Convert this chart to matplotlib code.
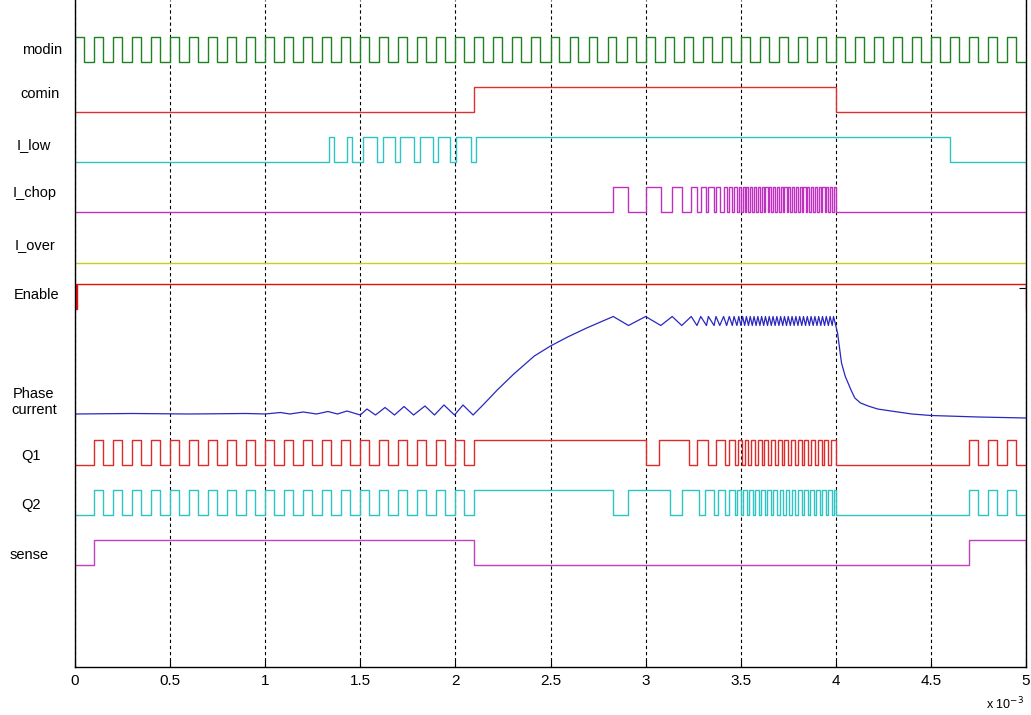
"""
Motor drive timing diagram - logic signals and phase current vs time.
"""

import numpy as np
import matplotlib
matplotlib.use("Agg")
import matplotlib.pyplot as plt
from matplotlib import font_manager

# ---------------- DATA (all times in ms) ----------------

T_END = 5.0

# modin clock: rising edges, each pulse is MODIN_HIGH ms wide
modin_rise = [0.0, 0.1, 0.2, 0.3, 0.4, 0.5, 0.6, 0.7, 0.8, 0.9,
              1.0, 1.1, 1.2, 1.3, 1.4, 1.5, 1.6, 1.7, 1.8, 1.9,
              2.0, 2.1, 2.2, 2.3, 2.4, 2.5, 2.6, 2.7, 2.8, 2.9,
              3.0, 3.1, 3.2, 3.3, 3.4, 3.5, 3.6, 3.7, 3.8, 3.9,
              4.0, 4.1, 4.2, 4.3, 4.4, 4.5, 4.6, 4.7, 4.8, 4.9]
MODIN_HIGH = 0.047

comin_rise = [2.1]
comin_fall = [4.0]

ilow_rise = [1.335, 1.43, 1.515, 1.62, 1.71, 1.815, 1.91, 2.005, 2.11]
ilow_fall = [1.36, 1.456, 1.59, 1.685, 1.78, 1.88, 1.97, 2.08, 4.6]

chop_rise = [2.83, 3.00, 3.14, 3.24, 3.29, 3.33, 3.37, 3.41, 3.44, 3.465,
             3.490, 3.510, 3.530, 3.550, 3.570, 3.590, 3.610, 3.630, 3.650, 3.670,
             3.690, 3.710, 3.730, 3.750, 3.770, 3.790, 3.810, 3.830, 3.850, 3.870,
             3.890, 3.910, 3.930, 3.950, 3.970, 3.988]
chop_fall = [2.91, 3.08, 3.19, 3.27, 3.32, 3.36, 3.39, 3.426, 3.456, 3.48,
             3.501, 3.521, 3.541, 3.561, 3.581, 3.601, 3.621, 3.641, 3.661, 3.681,
             3.701, 3.721, 3.741, 3.761, 3.781, 3.801, 3.821, 3.841, 3.861, 3.881,
             3.901, 3.921, 3.941, 3.961, 3.981, 4.000]

enable_rise = [0.0, 0.008]
enable_fall = [0.004, 5.0]

sense_rise = [0.1, 4.7]
sense_fall = [2.1, 5.0]

# Q1 / Q2 follow modin while sense is high, chop during the current limit phase
PWM_WINDOWS = [(0.1, 2.05), (4.7, 5.0)]
q1_rise_chop = [2.10, 3.07, 3.27, 3.37, 3.44, 3.485, 3.52, 3.555, 3.59, 3.625,
                3.66, 3.695, 3.73, 3.765, 3.80, 3.835, 3.87, 3.905, 3.94, 3.975]
q1_fall_chop = [3.00, 3.23, 3.33, 3.42, 3.47, 3.505, 3.54, 3.575, 3.61, 3.645,
                3.68, 3.715, 3.75, 3.785, 3.82, 3.855, 3.89, 3.925, 3.96, 4.00]
q2_rise_chop = [2.10, 2.91, 3.19, 3.31, 3.38, 3.44, 3.48, 3.512, 3.544, 3.576,
                3.608, 3.64, 3.672, 3.704, 3.736, 3.768, 3.80, 3.832, 3.864, 3.896,
                3.928, 3.96, 3.99]
q2_fall_chop = [2.83, 3.13, 3.28, 3.36, 3.42, 3.47, 3.50, 3.532, 3.564, 3.596,
                3.628, 3.66, 3.692, 3.724, 3.756, 3.788, 3.82, 3.852, 3.884, 3.916,
                3.948, 3.98, 4.00]

# phase current (arbitrary units) before chopping starts
cur_t_pre = [0.0, 0.3, 0.6, 0.9, 1.0, 1.08, 1.13, 1.2, 1.27, 1.33, 1.38, 1.43,
             1.5, 1.535, 1.58, 1.63, 1.68, 1.73, 1.78, 1.84, 1.89, 1.94, 1.995,
             2.04, 2.093, 2.15, 2.22, 2.307, 2.415, 2.5, 2.59, 2.69]
cur_v_pre = [0.0, 0.005, 0.0, 0.005, 0.0, 0.015, 0.0, 0.02, 0.0, 0.025, 0.0, 0.03,
             -0.01, 0.05, -0.01, 0.065, -0.01, 0.075, -0.01, 0.08, -0.01, 0.09, -0.01,
             0.09, -0.01, 0.10, 0.24, 0.40, 0.58, 0.68, 0.77, 0.86]
CUR_PEAK = 0.975      # current at I_chop rising edges
CUR_VALLEY = 0.885    # current at I_chop falling edges
# decay after comin switches off
cur_t_post = [4.01, 4.03, 4.05, 4.08, 4.10, 4.13, 4.17, 4.22, 4.29, 4.4, 4.5, 4.75, 5.0]
cur_v_post = [0.80, 0.51, 0.375, 0.24, 0.16, 0.11, 0.08, 0.05, 0.03, 0.0, -0.015, -0.03, -0.04]

# ---------------- LAYOUT (pixel rows of the original figure) ----------------

W, H = 1031, 715
AX_BOTTOM_PX = 667
STEP = 25           # logic high height in px
CUR_SCALE = 100     # px per current unit

lanes = {           # label: (baseline px, colour)
    "modin":  (62, "#1e8222"),
    "comin":  (112, "#dd3030"),
    "I_low":  (162, "#2ec4c4"),
    "I_chop": (212, "#c030c0"),
    "I_over": (263, "#cccc20"),
    "Enable": (309, "#e01010"),
    "Phase":  (414, "#2828c0"),
    "Q1":     (465, "#dd2a2a"),
    "Q2":     (515, "#2ec4c4"),
    "sense":  (565, "#c040c0"),
}

labels = [  # text, x px, y px
    ("modin", 42, 50), ("comin", 40, 94), ("I_low", 34, 145), ("I_chop", 35, 193),
    ("I_over", 35, 245), ("Enable", 37, 295), ("Phase\ncurrent", 34, 402),
    ("Q1", 31, 456), ("Q2", 31, 505), ("sense", 29, 555),
]


def step_trace(rises, falls, t_end=T_END):
    t, v = [0.0], [0]
    for a, b in zip(rises, falls):
        t += [a, a, b, b]
        v += [0, 1, 1, 0]
    t.append(t_end)
    v.append(v[-1])
    return np.array(t), np.array(v)


def pwm_edges(window):
    lo, hi = window
    r = [x for x in modin_rise if lo <= x <= hi]
    return r, [min(x + MODIN_HIGH, T_END) for x in r]


def q_edges(rise_chop, fall_chop):
    r1, f1 = pwm_edges(PWM_WINDOWS[0])
    r2, f2 = pwm_edges(PWM_WINDOWS[1])
    return r1 + rise_chop + r2, f1 + fall_chop + f2


names = {f.name for f in font_manager.fontManager.ttflist}
tick_font = "Liberation Sans Narrow" if "Liberation Sans Narrow" in names else "Liberation Sans"

fig = plt.figure(figsize=(W / 100, H / 100), dpi=100)
ax = fig.add_axes([75 / W, (H - AX_BOTTOM_PX) / H, 951 / W, AX_BOTTOM_PX / H])

traces = {
    "modin": step_trace(modin_rise, [x + MODIN_HIGH for x in modin_rise]),
    "comin": step_trace(comin_rise, comin_fall),
    "I_low": step_trace(ilow_rise, ilow_fall),
    "I_chop": step_trace(chop_rise, chop_fall),
    "I_over": (np.array([0.0, T_END]), np.array([0, 0])),
    "Enable": step_trace(enable_rise, enable_fall),
    "Q1": step_trace(*q_edges(q1_rise_chop, q1_fall_chop)),
    "Q2": step_trace(*q_edges(q2_rise_chop, q2_fall_chop)),
    "sense": step_trace(sense_rise, sense_fall),
}

for name, (t, v) in traces.items():
    base, col = lanes[name]
    ax.plot(t, base - STEP * v, color=col, lw=1.0)

# phase current: ripple follows I_chop edges
ripple_t, ripple_v = [], []
for a, b in zip(chop_rise, chop_fall):
    ripple_t += [a, b]
    ripple_v += [CUR_PEAK, CUR_VALLEY]
cur_t = np.array(cur_t_pre + ripple_t + cur_t_post)
cur_v = np.array(cur_v_pre + ripple_v + cur_v_post)
base, col = lanes["Phase"]
ax.plot(cur_t, base - CUR_SCALE * cur_v, color=col, lw=0.9)

ax.set_xlim(0, T_END)
ax.set_ylim(AX_BOTTOM_PX, 0)
xt = np.arange(0, 5.01, 0.5)
ax.set_xticks(xt)
ax.set_xticklabels([f"{x:g}" for x in xt], fontsize=11, family=tick_font)
ax.set_yticks([288])
ax.set_yticklabels([])
ax.tick_params(axis="x", direction="in", length=5, pad=5, top=False)
ax.tick_params(axis="y", direction="in", length=5, left=False, right=True)
ax.grid(axis="x", color="black", linestyle=(0, (3, 2.5)), linewidth=0.8)
ax.spines["top"].set_visible(False)
for s in ("left", "right", "bottom"):
    ax.spines[s].set_linewidth(1.0)

for text, x, y in labels:
    fig.text(x / W, 1 - y / H, text, ha="center", va="center",
             fontsize=10.5, family="Liberation Sans", linespacing=1.1)

fig.text(1024 / W, 1 - 704 / H, r"x 10$^{-3}$", ha="right", va="center",
         fontsize=9, family=tick_font)

fig.savefig("out.png", dpi=100)
